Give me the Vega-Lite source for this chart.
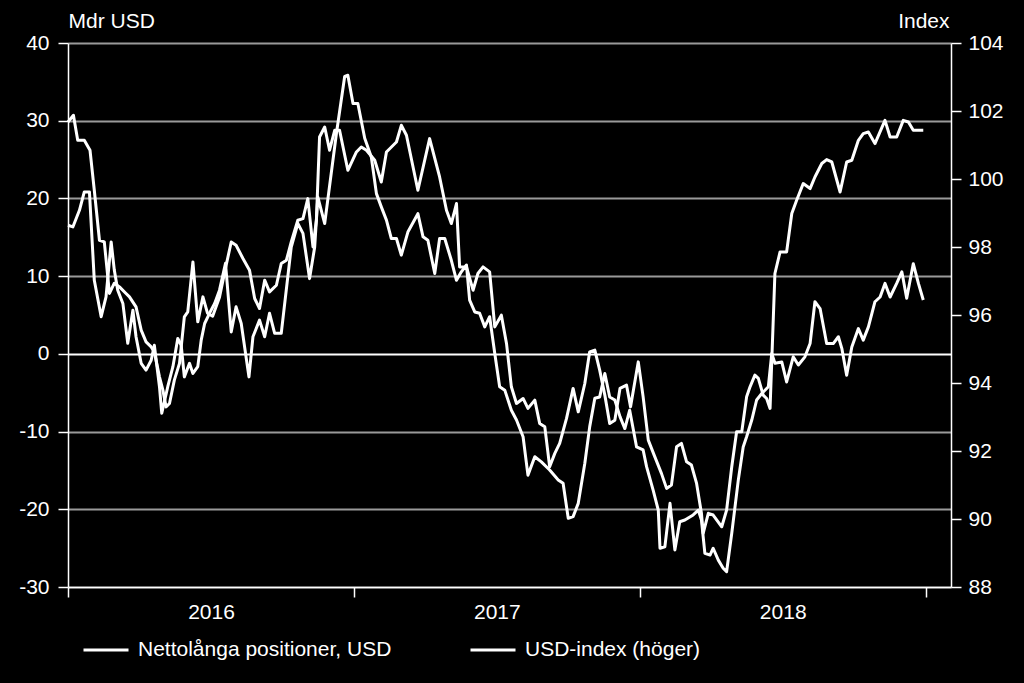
{
  "$schema": "https://vega.github.io/schema/vega-lite/v6.json",
  "width": 883,
  "height": 544,
  "autosize": "none",
  "padding": {"left": 68, "top": 43, "right": 73, "bottom": 96},
  "background": "black",
  "config": {
    "font": "Liberation Sans",
    "view": {"stroke": null},
    "axis": {
      "domainColor": "white",
      "domainWidth": 1.5,
      "tickColor": "white",
      "tickWidth": 1.5,
      "tickSize": 10,
      "labelColor": "white",
      "labelFont": "Liberation Sans",
      "labelFontSize": 21,
      "titleColor": "white",
      "titleFont": "Liberation Sans",
      "titleFontSize": 21,
      "titleFontWeight": "normal"
    }
  },
  "layer": [
    {
      "data": {"values": [
        {"year":2016.000,"net":29.84},{"year":2016.019,"net":30.70},{"year":2016.034,"net":27.48},{"year":2016.057,"net":27.48},{"year":2016.077,"net":26.20},{"year":2016.092,"net":21.05},{"year":2016.110,"net":14.62},{"year":2016.127,"net":14.40},{"year":2016.145,"net":7.77},{"year":2016.162,"net":9.09},{"year":2016.180,"net":8.62},{"year":2016.203,"net":7.77},{"year":2016.215,"net":7.33},{"year":2016.238,"net":6.04},{"year":2016.256,"net":3.05},{"year":2016.273,"net":1.54},{"year":2016.291,"net":0.90},{"year":2016.302,"net":0.26},{"year":2016.320,"net":-2.96},{"year":2016.332,"net":-4.67},{"year":2016.343,"net":-6.82},{"year":2016.355,"net":-6.38},{"year":2016.372,"net":-3.38},{"year":2016.390,"net":-1.23},{"year":2016.407,"net":4.76},{"year":2016.419,"net":5.40},{"year":2016.437,"net":11.83},{"year":2016.454,"net":4.12},{"year":2016.472,"net":7.33},{"year":2016.488,"net":5.23},{"year":2016.506,"net":4.85},{"year":2016.530,"net":7.29},{"year":2016.551,"net":11.02},{"year":2016.571,"net":14.40},{"year":2016.588,"net":13.98},{"year":2016.612,"net":12.27},{"year":2016.635,"net":10.76},{"year":2016.653,"net":7.12},{"year":2016.670,"net":5.84},{"year":2016.688,"net":9.48},{"year":2016.705,"net":7.97},{"year":2016.729,"net":8.83},{"year":2016.746,"net":11.63},{"year":2016.764,"net":12.05},{"year":2016.781,"net":14.40},{"year":2016.804,"net":17.19},{"year":2016.822,"net":17.41},{"year":2016.839,"net":19.98},{"year":2016.857,"net":13.76},{"year":2016.869,"net":17.19},{"year":2016.880,"net":27.91},{"year":2016.898,"net":29.19},{"year":2016.915,"net":26.20},{"year":2016.933,"net":28.77},{"year":2016.950,"net":28.77},{"year":2016.979,"net":23.62},{"year":2017.009,"net":25.98},{"year":2017.026,"net":26.62},{"year":2017.044,"net":26.20},{"year":2017.073,"net":24.91},{"year":2017.096,"net":22.12},{"year":2017.114,"net":25.98},{"year":2017.149,"net":27.26},{"year":2017.166,"net":29.41},{"year":2017.184,"net":28.13},{"year":2017.224,"net":21.05},{"year":2017.265,"net":27.70},{"year":2017.300,"net":22.76},{"year":2017.324,"net":18.48},{"year":2017.341,"net":16.77},{"year":2017.359,"net":19.34},{"year":2017.370,"net":11.19},{"year":2017.394,"net":11.19},{"year":2017.417,"net":8.19},{"year":2017.434,"net":10.34},{"year":2017.452,"net":11.19},{"year":2017.475,"net":10.55},{"year":2017.493,"net":3.47},{"year":2017.516,"net":4.98},{"year":2017.534,"net":1.34},{"year":2017.551,"net":-4.24},{"year":2017.569,"net":-6.38},{"year":2017.592,"net":-5.74},{"year":2017.609,"net":-7.02},{"year":2017.633,"net":-5.95},{"year":2017.650,"net":-8.95},{"year":2017.668,"net":-9.39},{"year":2017.685,"net":-14.53},{"year":2017.703,"net":-12.81},{"year":2017.720,"net":-11.52},{"year":2017.744,"net":-8.31},{"year":2017.767,"net":-4.45},{"year":2017.785,"net":-7.46},{"year":2017.808,"net":-3.81},{"year":2017.825,"net":0.26},{"year":2017.843,"net":0.48},{"year":2017.860,"net":-2.10},{"year":2017.878,"net":-5.31},{"year":2017.895,"net":-8.95},{"year":2017.913,"net":-8.53},{"year":2017.931,"net":-4.45},{"year":2017.954,"net":-4.03},{"year":2017.968,"net":-6.82},{"year":2017.995,"net":-1.03},{"year":2018.012,"net":-5.53},{"year":2018.030,"net":-11.10},{"year":2018.053,"net":-13.25},{"year":2018.076,"net":-15.38},{"year":2018.094,"net":-17.31},{"year":2018.111,"net":-16.89},{"year":2018.129,"net":-11.96},{"year":2018.146,"net":-11.52},{"year":2018.164,"net":-13.89},{"year":2018.181,"net":-14.31},{"year":2018.199,"net":-16.67},{"year":2018.216,"net":-20.52},{"year":2018.222,"net":-23.10},{"year":2018.240,"net":-20.52},{"year":2018.257,"net":-20.74},{"year":2018.287,"net":-22.25},{"year":2018.304,"net":-20.10},{"year":2018.322,"net":-14.53},{"year":2018.339,"net":-10.03},{"year":2018.357,"net":-10.03},{"year":2018.374,"net":-5.53},{"year":2018.386,"net":-4.24},{"year":2018.403,"net":-2.74},{"year":2018.415,"net":-3.16},{"year":2018.432,"net":-5.31},{"year":2018.444,"net":-5.74},{"year":2018.456,"net":-7.02},{"year":2018.473,"net":10.34},{"year":2018.491,"net":13.12},{"year":2018.514,"net":13.12},{"year":2018.532,"net":18.06},{"year":2018.549,"net":19.77},{"year":2018.572,"net":21.91},{"year":2018.596,"net":21.27},{"year":2018.613,"net":22.76},{"year":2018.637,"net":24.49},{"year":2018.654,"net":25.00},{"year":2018.672,"net":24.69},{"year":2018.701,"net":20.83},{"year":2018.724,"net":24.69},{"year":2018.742,"net":24.91},{"year":2018.765,"net":27.48},{"year":2018.782,"net":28.34},{"year":2018.800,"net":28.55},{"year":2018.823,"net":27.06},{"year":2018.858,"net":30.05},{"year":2018.876,"net":27.91},{"year":2018.899,"net":27.91},{"year":2018.922,"net":30.05},{"year":2018.940,"net":29.84},{"year":2018.957,"net":28.77},{"year":2018.992,"net":28.77}
      ]},
      "mark": {"type": "line", "strokeWidth": 3, "strokeJoin": "round"},
      "encoding": {
        "x": {
          "field": "year", "type": "quantitative",
          "scale": {"domain": [2016, 2019.089], "nice": false, "zero": false},
          "axis": {
            "title": null,
            "values": [2016, 2017, 2018, 2019],
            "labelExpr": "datum.value < 2019 ? format(datum.value, 'd') : ''",
            "labelOffset": 143,
            "labelPadding": 4,
            "labelFlush": false,
            "labelBound": false,
            "labelOverlap": false,
            "grid": false
          }
        },
        "y": {
          "field": "net", "type": "quantitative",
          "scale": {"domain": [-30, 40], "nice": false, "zero": false},
          "axis": {
            "orient": "left",
            "values": [-30, -20, -10, 0, 10, 20, 30, 40],
            "labelExpr": "datum.value < 0 ? '-' + abs(datum.value) : '' + datum.value",
            "labelPadding": 9,
            "grid": true,
            "gridColor": {"condition": {"test": "datum.value === 0", "value": "white"}, "value": "#9a9a9a"},
            "gridWidth": 2,
            "title": "Mdr USD",
            "titleAngle": 0,
            "titleAlign": "left",
            "titleBaseline": "alphabetic",
            "titleX": 0,
            "titleY": -16
          }
        },
        "color": {
          "datum": "Nettolånga positioner, USD",
          "type": "nominal",
          "scale": {"domain": ["Nettolånga positioner, USD", "USD-index (höger)"], "range": ["white", "white"]},
          "legend": {
            "title": null,
            "orient": "none",
            "direction": "horizontal",
            "legendX": 14,
            "legendY": 583,
            "symbolType": "stroke",
            "symbolSize": 2025,
            "symbolStrokeWidth": 3,
            "symbolStrokeColor": "white",
            "labelColor": "white",
            "labelFont": "Liberation Sans",
            "labelFontSize": 21,
            "labelLimit": 400,
            "labelOffset": 8,
            "columnPadding": 72,
            "padding": 0
          }
        }
      }
    },
    {
      "data": {"values": [
        {"year":2016.000,"index":98.64},{"year":2016.017,"index":98.59},{"year":2016.040,"index":99.08},{"year":2016.057,"index":99.62},{"year":2016.075,"index":99.62},{"year":2016.092,"index":97.02},{"year":2016.116,"index":95.95},{"year":2016.133,"index":96.53},{"year":2016.151,"index":98.15},{"year":2016.162,"index":97.32},{"year":2016.174,"index":96.73},{"year":2016.192,"index":96.34},{"year":2016.209,"index":95.17},{"year":2016.227,"index":96.14},{"year":2016.238,"index":95.36},{"year":2016.256,"index":94.58},{"year":2016.273,"index":94.38},{"year":2016.291,"index":94.67},{"year":2016.302,"index":95.11},{"year":2016.320,"index":93.89},{"year":2016.328,"index":93.11},{"year":2016.349,"index":93.89},{"year":2016.367,"index":94.48},{"year":2016.384,"index":95.31},{"year":2016.396,"index":95.11},{"year":2016.407,"index":94.18},{"year":2016.425,"index":94.58},{"year":2016.437,"index":94.28},{"year":2016.454,"index":94.48},{"year":2016.466,"index":95.26},{"year":2016.478,"index":95.75},{"year":2016.495,"index":96.05},{"year":2016.513,"index":96.34},{"year":2016.530,"index":96.73},{"year":2016.551,"index":97.52},{"year":2016.571,"index":95.50},{"year":2016.588,"index":96.24},{"year":2016.606,"index":95.75},{"year":2016.633,"index":94.18},{"year":2016.647,"index":95.36},{"year":2016.670,"index":95.85},{"year":2016.688,"index":95.36},{"year":2016.705,"index":96.05},{"year":2016.723,"index":95.46},{"year":2016.746,"index":95.46},{"year":2016.781,"index":98.00},{"year":2016.804,"index":98.69},{"year":2016.822,"index":98.40},{"year":2016.845,"index":97.07},{"year":2016.863,"index":98.00},{"year":2016.874,"index":99.47},{"year":2016.898,"index":98.69},{"year":2016.939,"index":101.34},{"year":2016.968,"index":103.02},{"year":2016.979,"index":103.05},{"year":2016.997,"index":102.22},{"year":2017.014,"index":102.22},{"year":2017.038,"index":101.20},{"year":2017.061,"index":100.65},{"year":2017.079,"index":99.57},{"year":2017.096,"index":99.18},{"year":2017.114,"index":98.79},{"year":2017.131,"index":98.25},{"year":2017.149,"index":98.25},{"year":2017.166,"index":97.76},{"year":2017.189,"index":98.44},{"year":2017.224,"index":98.98},{"year":2017.242,"index":98.30},{"year":2017.259,"index":98.20},{"year":2017.283,"index":97.22},{"year":2017.300,"index":98.25},{"year":2017.318,"index":98.25},{"year":2017.341,"index":97.61},{"year":2017.359,"index":97.02},{"year":2017.376,"index":97.27},{"year":2017.394,"index":97.47},{"year":2017.405,"index":96.44},{"year":2017.423,"index":96.09},{"year":2017.440,"index":96.05},{"year":2017.458,"index":95.65},{"year":2017.475,"index":95.95},{"year":2017.493,"index":94.87},{"year":2017.510,"index":93.89},{"year":2017.528,"index":93.79},{"year":2017.551,"index":93.20},{"year":2017.569,"index":92.91},{"year":2017.592,"index":92.42},{"year":2017.609,"index":91.29},{"year":2017.633,"index":91.83},{"year":2017.656,"index":91.68},{"year":2017.685,"index":91.44},{"year":2017.715,"index":91.15},{"year":2017.732,"index":91.05},{"year":2017.750,"index":90.02},{"year":2017.767,"index":90.07},{"year":2017.785,"index":90.46},{"year":2017.808,"index":91.64},{"year":2017.825,"index":92.71},{"year":2017.843,"index":93.55},{"year":2017.860,"index":93.59},{"year":2017.878,"index":94.28},{"year":2017.895,"index":93.59},{"year":2017.913,"index":93.50},{"year":2017.931,"index":93.01},{"year":2017.948,"index":92.66},{"year":2017.965,"index":93.20},{"year":2017.989,"index":92.12},{"year":2018.012,"index":92.03},{"year":2018.024,"index":91.54},{"year":2018.047,"index":90.85},{"year":2018.065,"index":90.26},{"year":2018.071,"index":89.14},{"year":2018.088,"index":89.18},{"year":2018.106,"index":90.46},{"year":2018.123,"index":89.09},{"year":2018.140,"index":89.92},{"year":2018.158,"index":89.97},{"year":2018.187,"index":90.12},{"year":2018.205,"index":90.26},{"year":2018.216,"index":89.97},{"year":2018.228,"index":88.99},{"year":2018.246,"index":88.94},{"year":2018.257,"index":89.14},{"year":2018.275,"index":88.79},{"year":2018.292,"index":88.55},{"year":2018.304,"index":88.45},{"year":2018.322,"index":89.58},{"year":2018.345,"index":91.15},{"year":2018.362,"index":92.12},{"year":2018.374,"index":92.42},{"year":2018.392,"index":92.91},{"year":2018.409,"index":93.50},{"year":2018.427,"index":93.69},{"year":2018.450,"index":93.89},{"year":2018.462,"index":94.87},{"year":2018.473,"index":94.58},{"year":2018.497,"index":94.62},{"year":2018.514,"index":94.03},{"year":2018.537,"index":94.77},{"year":2018.555,"index":94.53},{"year":2018.578,"index":94.77},{"year":2018.596,"index":95.16},{"year":2018.613,"index":96.39},{"year":2018.631,"index":96.19},{"year":2018.654,"index":95.16},{"year":2018.677,"index":95.16},{"year":2018.695,"index":95.36},{"year":2018.707,"index":95.02},{"year":2018.724,"index":94.23},{"year":2018.742,"index":95.06},{"year":2018.765,"index":95.60},{"year":2018.782,"index":95.26},{"year":2018.800,"index":95.65},{"year":2018.823,"index":96.39},{"year":2018.841,"index":96.53},{"year":2018.858,"index":96.93},{"year":2018.876,"index":96.53},{"year":2018.899,"index":96.93},{"year":2018.917,"index":97.27},{"year":2018.934,"index":96.49},{"year":2018.957,"index":97.51},{"year":2018.975,"index":96.93},{"year":2018.992,"index":96.44}
      ]},
      "mark": {"type": "line", "strokeWidth": 3, "strokeJoin": "round"},
      "encoding": {
        "x": {
          "field": "year", "type": "quantitative",
          "scale": {"domain": [2016, 2019.089], "nice": false, "zero": false},
          "axis": {
            "title": null,
            "values": [2016, 2017, 2018, 2019],
            "labelExpr": "datum.value < 2019 ? format(datum.value, 'd') : ''",
            "labelOffset": 143,
            "labelPadding": 4,
            "labelFlush": false,
            "labelBound": false,
            "labelOverlap": false,
            "grid": false
          }
        },
        "y": {
          "field": "index", "type": "quantitative",
          "scale": {"domain": [88, 104], "nice": false, "zero": false},
          "axis": {
            "orient": "right",
            "values": [88, 90, 92, 94, 96, 98, 100, 102, 104],
            "labelPadding": 7,
            "grid": false,
            "title": "Index",
            "titleAngle": 0,
            "titleAlign": "right",
            "titleBaseline": "alphabetic",
            "titleX": -2,
            "titleY": -16
          }
        },
        "color": {"datum": "USD-index (höger)", "type": "nominal"}
      }
    }
  ],
  "resolve": {"scale": {"y": "independent"}}
}
